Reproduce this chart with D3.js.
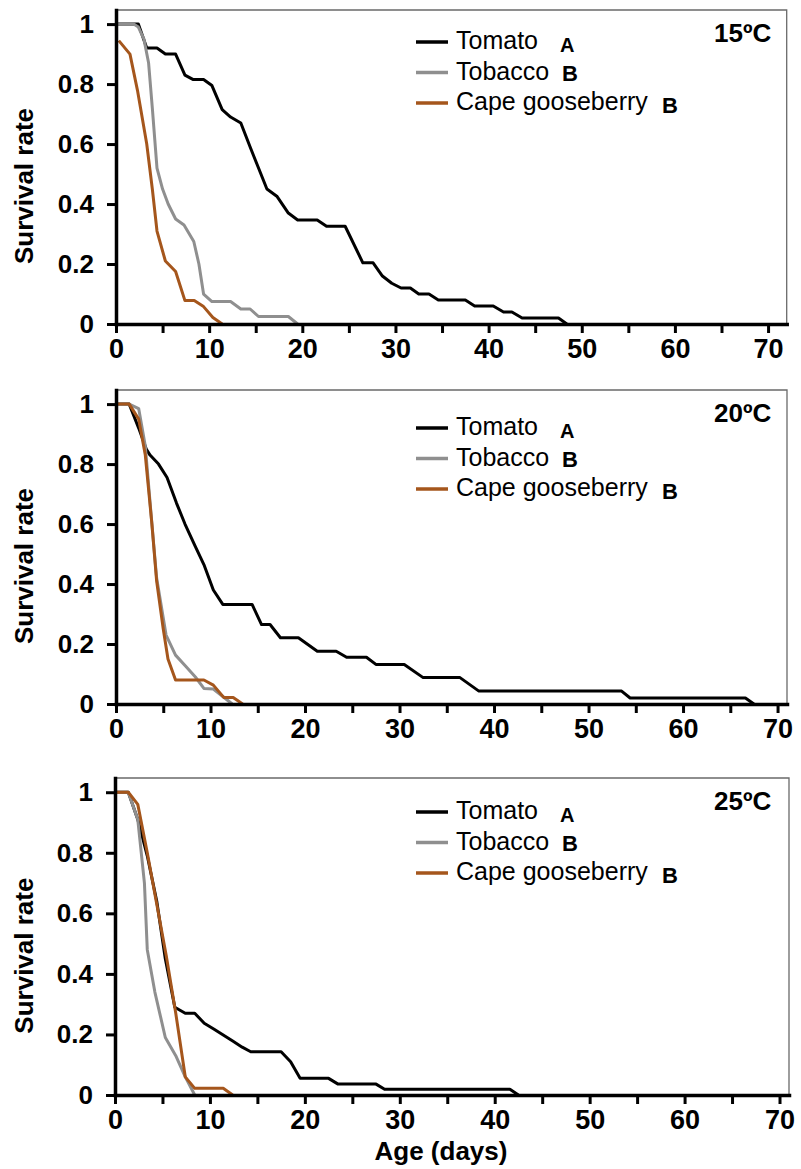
<!DOCTYPE html>
<html>
<head>
<meta charset="utf-8">
<script src="https://cdn.jsdelivr.net/npm/d3@7"></script>
<style>
  body { margin: 0; background: #fff; }
  text { font-family: "Liberation Sans", Arial, sans-serif; }
</style>
</head>
<body>
<div id="chart"></div>
<script>
// survival curves, [age (days), survival rate]
const tomato15 = [[0,1],[2.4,1],[3.3,0.92],[4.4,0.92],[5.3,0.9],[6.4,0.9],[7.4,0.83],[8.3,0.815],[9.4,0.815],[10.3,0.795],[11.4,0.715],[12.3,0.69],[13.4,0.67],[14.4,0.59],[15.3,0.52],[16.2,0.45],[17.3,0.425],[18.5,0.37],[19.5,0.347],[21.6,0.347],[22.6,0.326],[24.6,0.326],[26.5,0.204],[27.6,0.204],[28.6,0.16],[29.6,0.136],[30.6,0.12],[31.6,0.12],[32.5,0.1],[33.6,0.1],[34.6,0.08],[37.5,0.08],[38.5,0.06],[40.5,0.06],[41.6,0.04],[42.5,0.04],[43.6,0.02],[47.5,0.02],[48.4,0]];
const tobacco15 = [[0,1],[1.9,1],[2.4,0.99],[3.0,0.95],[3.5,0.87],[3.9,0.72],[4.4,0.52],[5.0,0.45],[5.6,0.4],[6.4,0.35],[7.3,0.33],[8.35,0.275],[8.9,0.2],[9.4,0.1],[10.3,0.075],[12.3,0.075],[13.4,0.05],[14.4,0.05],[15.3,0.025],[18.5,0.025],[19.5,0]];
const cape15 = [[0.3,0.945],[1.5,0.9],[2.3,0.78],[3.3,0.6],[3.9,0.45],[4.4,0.31],[5.3,0.21],[6.4,0.175],[7.4,0.078],[8.4,0.078],[9.4,0.058],[10.4,0.022],[11.4,0]];

const tomato20 = [[0,1],[1.4,1],[2.4,0.92],[3.2,0.85],[3.6,0.83],[4.5,0.8],[5.4,0.755],[6.4,0.67],[7.3,0.6],[8.4,0.525],[9.3,0.465],[10.3,0.38],[11.3,0.332],[14.4,0.332],[15.4,0.265],[16.3,0.265],[17.4,0.221],[19.3,0.221],[21.3,0.176],[23.3,0.176],[24.4,0.156],[26.5,0.156],[27.5,0.132],[30.5,0.132],[32.5,0.088],[36.4,0.088],[38.4,0.043],[53.5,0.043],[54.4,0.02],[66.6,0.02],[67.5,0]];
const tobacco20 = [[0,1],[1.4,1],[2.4,0.985],[3.1,0.86],[3.8,0.6],[4.3,0.42],[5.3,0.23],[6.3,0.163],[7.4,0.125],[8.4,0.09],[9.3,0.052],[10.3,0.05],[11.3,0.025],[12.3,0]];
const cape20 = [[0,1],[1.4,1],[2.4,0.95],[3.1,0.83],[3.8,0.6],[4.3,0.41],[5.0,0.25],[5.5,0.15],[6.3,0.08],[9.3,0.08],[10.3,0.063],[11.4,0.022],[12.4,0.022],[13.4,0]];

const tomato25 = [[0,1],[1.4,1],[2.4,0.91],[3.4,0.79],[4.4,0.64],[5.3,0.45],[6.3,0.29],[7.4,0.27],[8.4,0.27],[9.4,0.237],[10.4,0.218],[11.4,0.198],[12.4,0.178],[13.4,0.158],[14.3,0.143],[17.5,0.143],[18.5,0.11],[19.5,0.055],[22.5,0.055],[23.5,0.036],[27.5,0.036],[28.4,0.019],[41.6,0.019],[42.5,0]];
const tobacco25 = [[0,1],[1.4,1],[2.4,0.91],[3.1,0.7],[3.4,0.48],[4.2,0.34],[5.3,0.19],[6.4,0.13],[7.4,0.06],[8.4,0]];
const cape25 = [[0,1],[1.4,1],[2.4,0.96],[3.4,0.8],[4.4,0.63],[5.4,0.46],[6.4,0.27],[7.4,0.06],[8.4,0.022],[11.4,0.022],[12.4,0]];

const species = ["Tomato", "Tobacco", "Cape gooseberry"];
const letters = ["A", "B", "B"];
const temps = ["15ºC", "20ºC", "25ºC"];
const xTicks = [0, 5, 10, 15, 20, 25, 30, 35, 40, 45, 50, 55, 60, 65, 70];
const yTicks = [0, 0.2, 0.4, 0.6, 0.8, 1];

const colors = ["#000000", "#8f8f8f", "#a5561c"];
const seriesByPanel = [
  [tomato15, tobacco15, cape15],
  [tomato20, tobacco20, cape20],
  [tomato25, tobacco25, cape25]
];

const panels = [
  { top: 10,  bottom: 324,  left: 116, right: 786.7, xMax: 72, legendDy: 32 },
  { top: 390, bottom: 704,  left: 116, right: 787,   xMax: 71, legendDy: 38 },
  { top: 778, bottom: 1095, left: 115, right: 789,   xMax: 71, legendDy: 34 }
];

const svg = d3.select("#chart").append("svg")
  .attr("width", 801)
  .attr("height", 1169)
  .style("background", "#fff");

panels.forEach((p, i) => {
  const x = d3.scaleLinear().domain([0, p.xMax]).range([p.left, p.right]);
  const y = d3.scaleLinear().domain([0, 1.047]).range([p.bottom, p.top]);
  const g = svg.append("g");

  // thin frame on top and right
  g.append("path")
    .attr("d", `M${p.left},${p.top}H${p.right}V${p.bottom}`)
    .attr("fill", "none")
    .attr("stroke", "#6a6a6a")
    .attr("stroke-width", 1.3);

  const line = d3.line().x(d => x(d[0])).y(d => y(d[1]));

  seriesByPanel[i].forEach((s, k) => {
    g.append("path")
      .datum(s)
      .attr("d", line)
      .attr("fill", "none")
      .attr("stroke", colors[k])
      .attr("stroke-width", 3)
      .attr("stroke-linejoin", "round");
  });

  // axes
  const xAxis = d3.axisBottom(x)
    .tickValues(xTicks)
    .tickSize(9)
    .tickSizeOuter(0)
    .tickPadding(6)
    .tickFormat(d => d % 10 === 0 ? d : "");
  const gx = g.append("g")
    .attr("transform", `translate(0,${p.bottom})`)
    .call(xAxis);

  const yAxis = d3.axisLeft(y)
    .tickValues(yTicks)
    .tickSize(9)
    .tickSizeOuter(0)
    .tickPadding(13)
    .tickFormat(d => String(d));
  const gy = g.append("g")
    .attr("transform", `translate(${p.left},0)`)
    .call(yAxis);
  gx.attr("transform", `translate(0,${p.bottom})`);

  [gx, gy].forEach(ax => {
    ax.select(".domain").attr("stroke", "#000").attr("stroke-width", 3.5).attr("stroke-linecap", "square");
    ax.selectAll(".tick line").attr("stroke", "#000").attr("stroke-width", 3);
    ax.selectAll("text")
      .attr("fill", "#000")
      .style("font-family", '"Liberation Sans", Arial, sans-serif')
      .style("font-weight", "bold");
  });
  gx.selectAll("text").style("font-size", "27px");
  gy.selectAll("text").style("font-size", "26px");

  // y title
  g.append("text")
    .attr("transform", `translate(33,${y(0.5) + 12}) rotate(-90)`)
    .attr("text-anchor", "middle")
    .style("font-size", "26px")
    .style("font-weight", "bold")
    .text("Survival rate");

  // temperature label
  g.append("text")
    .attr("x", 714)
    .attr("y", p.top + 32)
    .style("font-size", "26px")
    .style("font-weight", "bold")
    .text(temps[i]);

  // legend
  const lg = g.append("g").attr("transform", `translate(416,${p.top + p.legendDy})`);
  species.forEach((name, k) => {
    const row = lg.append("g").attr("transform", `translate(0,${k * 30.5})`);
    row.append("line")
      .attr("x1", 0).attr("x2", 32)
      .attr("stroke", colors[k])
      .attr("stroke-width", 3.5);
    const t = row.append("text")
      .attr("x", 40)
      .attr("y", 7)
      .style("font-size", "25px")
      .text(name);
    row.append("text")
      .attr("x", k === 2 ? 246 : (k === 0 ? 144 : 146))
      .attr("y", k === 1 ? 8 : 9.5)
      .style("font-size", k === 0 ? "20px" : "22px")
      .style("font-weight", "bold")
      .text(letters[k]);
  });
});

// x title
svg.append("text")
  .attr("x", 441)
  .attr("y", 1160)
  .attr("text-anchor", "middle")
  .style("font-size", "26px")
  .style("font-weight", "bold")
  .text("Age (days)");
</script>
</body>
</html>
